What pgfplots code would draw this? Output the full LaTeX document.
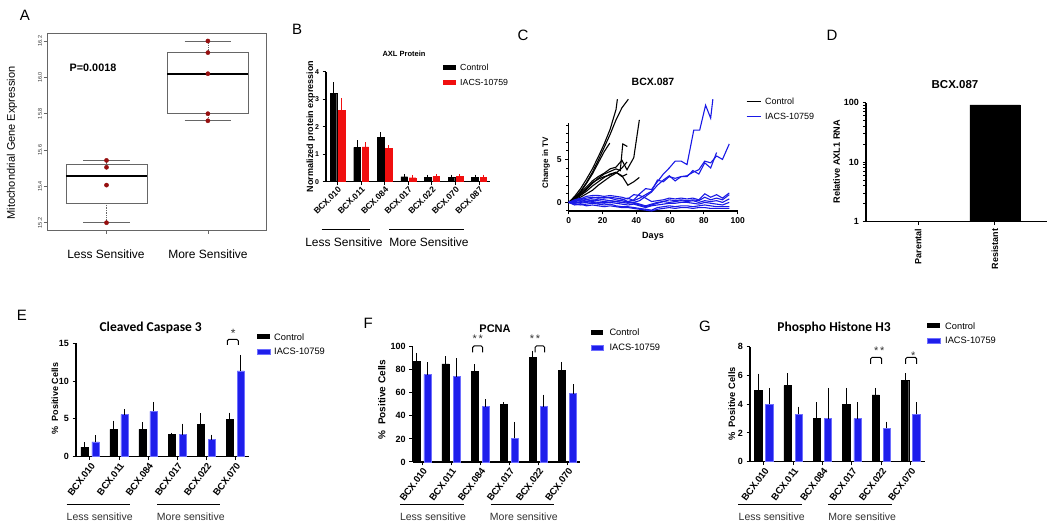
\documentclass[border=0pt]{standalone}
\usepackage{fontspec}
\setmainfont{Liberation Sans}
\newfontfamily\calibri{Carlito}
\usepackage{pgfplots}
\pgfplotsset{compat=1.18}

\definecolor{dred}{RGB}{150,15,15}
\definecolor{bblue}{RGB}{30,30,235}
\definecolor{bedge}{RGB}{110,110,255}
\definecolor{rred}{RGB}{240,15,15}
\definecolor{lblue}{RGB}{25,25,230}
\definecolor{txtg}{RGB}{50,50,50}

\newcommand{\fs}[1]{\fontsize{#1}{#1}\selectfont}

\pgfplotsset{
  gp/.style={scale only axis, anchor=south west, axis lines=left,
    axis line style={line width=1.1pt,-}, every tick/.style={line width=1pt,black},
    tick align=outside, major tick length=3.5pt, clip=false,
    /pgf/number format/assume math mode=true,
    tick label style={font=\bfseries\fs{8.5}}},
  ebc/.style={error bars/y dir=plus, error bars/y explicit,
    error bars/error bar style={#1, line width=1pt},
    error bars/error mark options={#1, line width=1pt, mark size=2pt}},
  gpbar/.style={gp, ybar, bar width=0.25, xtick={0,...,5},
    xticklabels={BCX.010,BCX.011,BCX.084,BCX.017,BCX.022,BCX.070},
    xticklabel style={rotate=53, anchor=north east, inner sep=1pt, font=\bfseries\fs{9.5}},
    yticklabel style={font=\bfseries\fs{9}}},
  ctl/.style={fill=black, draw=black, bar shift=-0.19, ebc=black},
  trt/.style={fill=bblue, draw=bedge, line width=0.6pt, bar shift=0.19, ebc=black},
  cl/.style={black, line width=1.1pt, mark=none},
  bl/.style={lblue, line width=1.1pt, mark=none}
}

\begin{document}
\begin{tikzpicture}
\fill[white] (0pt,0pt) rectangle (1050pt,532pt);
\useasboundingbox (0pt,0pt) rectangle (1050pt,532pt);

% ================= Panel A =================
\begin{axis}[scale only axis, anchor=south west, at={(47.7pt,302pt)}, width=219pt, height=197pt,
  xmin=0.42, xmax=2.58, ymin=15.16, ymax=16.244, clip=false,
  axis line style={draw=black!60, line width=0.8pt},
  xtick={1,2}, xticklabels={}, ytick={15.2,15.4,15.6,15.8,16.0,16.2},
  yticklabels={15.2,15.4,15.6,15.8,16.0,16.2},
  xtick pos=left, ytick pos=left, tick align=outside, major tick length=4pt,
  every tick/.style={black!60, line width=0.6pt},
  yticklabel style={rotate=90, anchor=south, font=\fs{5.5}, text=black!80, inner sep=1.5pt},
  /pgf/number format/assume math mode=true]
% Less sensitive
\addplot[color=black!60, line width=0.8pt] coordinates {(0.6,15.307)(1.4,15.307)(1.4,15.523)(0.6,15.523)(0.6,15.307)};
\addplot[color=black!60, line width=0.7pt, densely dotted] coordinates {(1,15.307)(1,15.2)};
\addplot[color=black!60, line width=0.7pt, densely dotted] coordinates {(1,15.523)(1,15.543)};
\addplot[color=black!60, line width=0.8pt] coordinates {(0.77,15.2)(1.23,15.2)};
\addplot[color=black!60, line width=0.8pt] coordinates {(0.77,15.543)(1.23,15.543)};
\addplot[color=black, line width=1.6pt] coordinates {(0.6,15.457)(1.4,15.457)};
% More sensitive
\addplot[color=black!60, line width=0.8pt] coordinates {(1.6,15.8)(2.4,15.8)(2.4,16.136)(1.6,16.136)(1.6,15.8)};
\addplot[color=black!60, line width=0.7pt, densely dotted] coordinates {(2,15.8)(2,15.761)};
\addplot[color=black!60, line width=0.7pt, densely dotted] coordinates {(2,16.136)(2,16.2)};
\addplot[color=black!60, line width=0.8pt] coordinates {(1.77,15.761)(2.23,15.761)};
\addplot[color=black!60, line width=0.8pt] coordinates {(1.77,16.2)(2.23,16.2)};
\addplot[color=black, line width=1.6pt] coordinates {(1.6,16.02)(2.4,16.02)};
% points
\addplot[only marks, mark=*, mark size=2.1pt, color=dred] coordinates {(1,15.543)(1,15.505)(1,15.407)(1,15.2)(2,16.2)(2,16.136)(2,16.02)(2,15.8)(2,15.761)};
\end{axis}

% ================= Panel B =================
\begin{axis}[gp, at={(326pt,350.3pt)}, width=164pt, height=110pt,
  xmin=-0.49, xmax=6.46, ymin=0, ymax=4, ytick={0,1,2,3,4}, ybar, bar width=0.28,
  xtick={0,...,6}, xticklabels={BCX.010,BCX.011,BCX.084,BCX.017,BCX.022,BCX.070,BCX.087},
  xticklabel style={rotate=45, anchor=north east, inner sep=0.5pt, font=\bfseries\fs{8.5}},
  yticklabel style={font=\bfseries\fs{7}}]
\addplot[fill=black, draw=black, bar shift=-0.176, ebc=black] coordinates {
 (0,3.21) +- (0,0.33) (1,1.25) +- (0,0.19) (2,1.6) +- (0,0.13) (3,0.18) +- (0,0.01)
 (4,0.17) +- (0,0.01) (5,0.17) +- (0,0.01) (6,0.17) +- (0,0.01)};
\addplot[fill=rred, draw=rred, bar shift=0.176, ebc=rred] coordinates {
 (0,2.6) +- (0,0.37) (1,1.27) +- (0,0.09) (2,1.2) +- (0,0.05) (3,0.145) +- (0,0.01)
 (4,0.19) +- (0,0.01) (5,0.2) +- (0,0.01) (6,0.17) +- (0,0.01)};
\end{axis}

% ================= Panel C =================
\begin{axis}[gp, at={(568.7pt,321pt)}, width=169pt, height=87.7pt,
  xmin=0, xmax=100, ymin=-1, ymax=9.2, xtick={0,20,40,60,80,100}, ytick={0,5},
  minor ytick={-1,1,2,3,4,6,7,8,9}, minor tick length=2.5pt,
  tick label style={font=\bfseries\fs{8.5}}]
\addplot[cl] coordinates {(0,0)(3.5,0.7)(7,1.6)(10.5,2.7)(14,3.9)(17.5,5.3)(21,6.8)(24.5,8.5)(28,10.8)(28.8,12)};
\addplot[cl] coordinates {(0,0)(3.5,0.6)(7,1.3)(10.5,2.3)(14,3.5)(17.5,4.9)(21,6.4)(24.5,7.9)(28,9.6)(31.5,11.0)(35.3,12)};
\addplot[cl] coordinates {(0,0)(3.5,0.5)(7,1.2)(10.5,2.2)(14,3.3)(17.5,4.6)(21,5.9)(24.3,6.9)};
\addplot[cl] coordinates {(0,0)(3.5,0.4)(7,0.9)(10.5,1.5)(14,2.2)(17.5,2.8)(21,3.3)(24.5,3.6)(28,3.9)(30.5,3.7)(32,6.8)(34.7,6.5)};
\addplot[cl] coordinates {(0,0)(3.5,0.5)(7,1.1)(10.5,1.8)(14,2.5)(17.5,3.0)(21,3.4)(24.5,3.9)(28,4.1)(31.5,4.9)(34.5,3.8)(38.5,5.2)(41.8,9.6)};
\addplot[cl] coordinates {(0,0)(3.5,0.3)(7,0.8)(10.5,1.3)(14,1.9)(17.5,2.4)(21,2.9)(24.5,3.3)(28,3.5)(31.5,3.1)(35,2.0)(38.5,2.4)(41.8,2.9)};
\addplot[cl] coordinates {(0,0)(3.5,0.3)(7,0.6)(10.5,1.0)(14,1.4)(17.5,2.0)(21,2.5)(24.5,3.0)(28,3.4)(31.5,4.0)(34.5,4.7)};
\addplot[cl] coordinates {(0,0)(3.5,0.5)(7,1.0)(10.5,1.6)(14,2.3)(17.5,2.7)(21,3.0)(24.5,3.2)(28,3.5)(31.5,3.0)(34.5,3.3)};
% IACS
\addplot[bl] coordinates {(0,0)(3.5,-0.1)(7,0.1)(10.5,0.3)(14,0.5)(17.5,0.6)(21,0.5)(24.5,0.6)(28,0.5)(31.5,0.4)(35,0.1)(38.5,0.3)(42,1.0)(45.5,1.6)(49,1.5)(52.5,2.4)(56,3.3)(59.5,4.0)(63,4.8)(66.5,4.8)(70,4.4)(74,8.4)(77.5,8.4)(81,11.3)(84,9.8)(85.3,12)};
\addplot[bl] coordinates {(0,0)(3.5,0.1)(7,0.2)(10.5,0.1)(14,0.3)(17.5,0.2)(21,0.1)(24.5,0.2)(28,0.1)(31.5,0.0)(35,0.1)(38.5,0.0)(42,0.2)(45.5,0.7)(49,1.2)(52.5,2.0)(56,2.6)(59.5,3.1)(63,2.5)(66.5,3.0)(70,3.0)(73.5,3.7)(77,3.3)(80.5,4.6)(84,4.0)(87.5,5.8)};
\addplot[bl] coordinates {(0,0)(3.5,0.0)(7,-0.1)(10.5,0.0)(14,0.1)(17.5,0.0)(21,-0.1)(24.5,0.0)(28,0.1)(31.5,0.3)(35,0.5)(38.5,0.2)(42,0.5)(45.5,0.9)(49,1.3)(52.5,2.6)(56,2.4)(59.5,3.0)(63,2.8)(66.5,3.0)(70,3.1)(73.5,3.5)(77,3.8)(80.5,4.8)(84,4.6)(87.5,5.4)(91,5.0)(95,6.8)};
\addplot[bl] coordinates {(0,0)(3.5,0.2)(7,0.4)(10.5,0.7)(14,0.8)(17.5,0.8)(21,0.7)(24.5,0.8)(28,0.7)(31.5,0.6)(35,0.4)(38.5,0.9)(42,0.8)(45.5,0.5)(49,0.1)(52.5,0.2)(56,0.3)(59.5,0.5)(63,0.4)(66.5,0.5)(70,0.4)(73.5,0.5)(77,0.3)(80.5,1.0)(84,0.6)(87.5,0.9)(91,0.5)(95,1.1)};
\addplot[bl] coordinates {(0,0)(3.5,0.1)(7,0.3)(10.5,0.5)(14,0.6)(17.5,0.5)(21,0.6)(24.5,0.5)(28,0.3)(31.5,0.2)(35,0.0)(38.5,-0.1)(42,-0.3)(45.5,-0.5)(49,-0.3)(52.5,-0.1)(56,0.1)(59.5,0.3)(63,0.2)(66.5,0.3)(70,0.2)(73.5,0.3)(77,0.2)(80.5,0.6)(84,0.3)(87.5,0.5)(91,0.3)(95,0.9)};
\addplot[bl] coordinates {(0,0)(3.5,-0.1)(7,0.0)(10.5,0.1)(14,0.0)(17.5,-0.1)(21,0.0)(24.5,0.0)(28,-0.1)(31.5,-0.2)(35,-0.3)(38.5,-0.2)(42,-0.4)(45.5,-0.6)(49,-0.4)(52.5,-0.3)(56,-0.2)(59.5,-0.1)(63,-0.1)(66.5,0.0)(70,0.0)(73.5,-0.1)(77,-0.2)(80.5,0.0)(84,-0.1)(87.5,-0.2)(91,-0.3)(95,0.0)};
\addplot[bl] coordinates {(0,0)(3.5,-0.2)(7,-0.3)(10.5,-0.2)(14,-0.1)(17.5,-0.2)(21,-0.3)(24.5,-0.2)(28,-0.4)(31.5,-0.5)(35,-0.5)(38.5,-0.6)(42,-0.7)(45.5,-0.8)(49,-0.9)(52.5,-0.6)(56,-0.5)(59.5,-0.4)(63,-0.5)(66.5,-0.4)(70,-0.4)(73.5,-0.5)(77,-0.4)(80.5,-0.3)(84,-0.4)(87.5,-0.5)(91,-0.5)(95,-0.5)};
\addplot[bl] coordinates {(0,0)(3.5,-0.3)(7,-0.2)(10.5,-0.4)(14,-0.3)(17.5,-0.4)(21,-0.5)(24.5,-0.4)(28,-0.5)(31.5,-0.6)(35,-0.6)(38.5,-0.7)(42,-0.8)(45.5,-0.9)(49,-1.0)(52.5,-0.8)(56,-0.7)(59.5,-0.6)(63,-0.7)(66.5,-0.6)(70,-0.6)(73.5,-0.7)(77,-0.6)(80.5,-0.6)(84,-0.7)(87.5,-0.7)(91,-0.7)(95,-0.7)};
\addplot[bl] coordinates {(0,0)(3.5,0.3)(7,0.5)(10.5,0.3)(14,0.2)(17.5,0.4)(21,0.3)(24.5,0.2)(28,0.1)(31.5,0.0)(35,-0.1)(38.5,0.0)(42,-0.2)(45.5,-0.4)(49,-0.2)(52.5,0.0)(56,0.1)(59.5,0.0)(63,0.1)(66.5,0.2)(70,0.1)(73.5,0.2)(77,0.0)(80.5,0.2)(84,0.1)(87.5,0.2)(91,0.0)(95,0.4)};
\end{axis}

% ================= Panel D =================
\begin{axis}[gp, at={(866pt,310.3pt)}, width=180.7pt, height=119pt,
  ymode=log, ymin=1, ymax=100, xmin=-0.68, xmax=1.674,
  ytick={1,10,100}, yticklabels={1,10,100}, xtick={0,1}, xticklabels={Parental,Resistant},
  xticklabel style={rotate=90, anchor=east, font=\bfseries\fs{9}},
  yticklabel style={font=\bfseries\fs{9}}, ybar, bar width=0.656]
\addplot[fill=black, draw=black, bar shift=0] coordinates {(0,1)(1,92)};
\end{axis}

% ================= Panel E =================
\begin{axis}[gpbar, at={(76pt,75.3pt)}, width=173pt, height=113.4pt,
  xmin=-0.48, xmax=5.47, ymin=0, ymax=15, ytick={0,5,10,15}]
\addplot[ctl] coordinates {(0,1.28) +- (0,0.35) (1,3.6) +- (0,0.9) (2,3.6) +- (0,0.7) (3,2.91) +- (0,0) (4,4.28) +- (0,1.22) (5,4.94) +- (0,0.62)};
\addplot[trt] coordinates {(0,1.96) +- (0,0.6) (1,5.58) +- (0,0.42) (2,6.0) +- (0,0.98) (3,2.91) +- (0,1.2) (4,2.25) +- (0,0.4) (5,11.34) +- (0,1.87)};
\end{axis}

% ================= Panel F =================
\begin{axis}[gpbar, at={(412.7pt,70pt)}, width=167.3pt, height=115.3pt,
  xmin=-0.32, xmax=5.43, ymin=0, ymax=100, ytick={0,20,40,60,80,100}]
\addplot[ctl] coordinates {(0,87) +- (0,5.8) (1,85) +- (0,4.9) (2,78.9) +- (0,4.1) (3,50) +- (0,0) (4,90.8) +- (0,4) (5,79.5) +- (0,5.5)};
\addplot[trt] coordinates {(0,75.7) +- (0,9) (1,74) +- (0,14.2) (2,48) +- (0,4.9) (3,20.5) +- (0,12.5) (4,48) +- (0,8.6) (5,59.2) +- (0,6.7)};
\end{axis}

% ================= Panel G =================
\begin{axis}[gpbar, at={(750pt,70.3pt)}, width=175pt, height=115pt,
  xmin=-0.47, xmax=5.49, ymin=0, ymax=8, ytick={0,2,4,6,8}]
\addplot[ctl] coordinates {(0,4.95) +- (0,1.03) (1,5.3) +- (0,0.7) (2,3.0) +- (0,1.0) (3,4.0) +- (0,1.0) (4,4.65) +- (0,0.35) (5,5.65) +- (0,0.35)};
\addplot[trt] coordinates {(0,4.0) +- (0,1.0) (1,3.3) +- (0,0.4) (2,3.0) +- (0,2.0) (3,3.0) +- (0,1.0) (4,2.33) +- (0,0.32) (5,3.3) +- (0,0.7)};
\end{axis}

% ================= annotations =================
\begin{scope}[x=1pt, y=1pt]
% panel letters
\foreach \l/\px/\py in {A/25/517, B/297/503, C/523/497, D/832/497, E/22/217, F/368.3/208.7, G/705/205.3}
  \node[font=\fs{15}] at (\px,\py) {\l};

% A
\node[font=\bfseries\fs{10.8}] at (93,464) {P=0.0018};
\node[font=\fs{11}, rotate=90] at (12,389) {Mitochondrial Gene Expression};
\node[font=\fs{12}] at (106,278) {Less Sensitive};
\node[font=\fs{12}] at (208,278) {More Sensitive};

% B
\node[font=\bfseries\fs{7.5}] at (404,478) {AXL Protein};
\node[font=\bfseries\fs{9}, rotate=90] at (310.7,405.3) {Normalized protein expression};
\fill[black] (442.7,462) rectangle (456,466.6);
\fill[rred] (442.7,447.4) rectangle (456,452);
\node[font=\fs{8.8}, anchor=west, inner sep=0pt] at (460,464.3) {Control};
\node[font=\fs{8.8}, anchor=west, inner sep=0pt] at (460,449.7) {IACS-10759};
\draw[line width=1pt] (321.7,302.7) -- (370,302.7);
\draw[line width=1pt] (389,302.7) -- (464,302.7);
\node[font=\fs{12}] at (344,290) {Less Sensitive};
\node[font=\fs{12}] at (429,290) {More Sensitive};

% C
\node[font=\bfseries\fs{10.5}] at (653,450.3) {BCX.087};
\node[font=\bfseries\fs{9}] at (653,296) {Days};
\node[font=\bfseries\fs{8}, rotate=90] at (546,369) {Change in TV};
\draw[black, line width=1.1pt] (746.7,430.3) -- (760.7,430.3);
\draw[lblue, line width=1.1pt] (746.7,415.3) -- (760.7,415.3);
\node[font=\fs{9}, anchor=west, inner sep=0pt] at (765,430.3) {Control};
\node[font=\fs{9}, anchor=west, inner sep=0pt] at (765,415.3) {IACS-10759};

% D
\node[font=\bfseries\fs{11.5}] at (955,447.7) {BCX.087};
\node[font=\bfseries\fs{9.2}, rotate=90] at (836.7,370.3) {Relative AXL1 RNA};

% E
\node[font=\calibri\bfseries\fs{13.5}] at (150.7,203.7) {Cleaved Caspase 3};
\node[font=\bfseries\fs{9}, rotate=90] at (55,133.7) {\%\ \ Positive Cells};
\fill[black] (256.7,192.8) rectangle (270,197.8);
\filldraw[fill=bblue, draw=bedge] (256.7,177.8) rectangle (270,182.8);
\node[font=\fs{9.3}, anchor=west, inner sep=0pt] at (274,195.3) {Control};
\node[font=\fs{9.3}, anchor=west, inner sep=0pt] at (274,180.3) {IACS-10759};
\draw[line width=1pt, rounded corners=1.5pt] (227.3,187) -- (227.3,192.7) -- (238.3,192.7) -- (238.3,187);
\node[font=\fs{12}, text=txtg] at (233.3,199) {*};
\draw[line width=1pt] (66.7,27.7) -- (130,27.7);
\draw[line width=1pt] (157.3,27.7) -- (220,27.7);
\node[font=\fs{10.5}, text=txtg] at (99.7,15.3) {Less sensitive};
\node[font=\fs{10.5}, text=txtg] at (190.8,15.3) {More sensitive};

% F
\node[font=\bfseries\fs{11}] at (495,203.7) {PCNA};
\node[font=\bfseries\fs{10}, rotate=90] at (381.7,132.5) {\%\ \ Positive Cells};
\fill[black] (590.7,197.2) rectangle (603.3,202.2);
\filldraw[fill=bblue, draw=bedge] (590.7,182.2) rectangle (603.3,187.2);
\node[font=\fs{9.3}, anchor=west, inner sep=0pt] at (609.3,199.7) {Control};
\node[font=\fs{9.3}, anchor=west, inner sep=0pt] at (609.3,184.7) {IACS-10759};
\draw[line width=1pt, rounded corners=1.5pt] (472.7,179.7) -- (472.7,186) -- (482.7,186) -- (482.7,179.7);
\draw[line width=1pt, rounded corners=1.5pt] (535,179.7) -- (535,186) -- (544.7,186) -- (544.7,179.7);
\node[font=\fs{11}, text=txtg] at (477.7,193.5) {*\,*};
\node[font=\fs{11}, text=txtg] at (535,193.5) {*\,*};
\draw[line width=1pt] (400,27.7) -- (464,27.7);
\draw[line width=1pt] (490.7,27.7) -- (553.7,27.7);
\node[font=\fs{10.5}, text=txtg] at (433,15.3) {Less sensitive};
\node[font=\fs{10.5}, text=txtg] at (523.8,15.3) {More sensitive};

% G
\node[font=\calibri\bfseries\fs{13.5}] at (834,203.7) {Phospho Histone H3};
\node[font=\bfseries\fs{9.3}, rotate=90] at (731.7,128) {\%\ \ Positive Cells};
\fill[black] (927.3,203.8) rectangle (940,208.8);
\filldraw[fill=bblue, draw=bedge] (927.3,188.8) rectangle (940,193.8);
\node[font=\fs{9.3}, anchor=west, inner sep=0pt] at (945,206.3) {Control};
\node[font=\fs{9.3}, anchor=west, inner sep=0pt] at (945,191.3) {IACS-10759};
\draw[line width=1pt, rounded corners=1.5pt] (870.7,168) -- (870.7,174.7) -- (881.7,174.7) -- (881.7,168);
\draw[line width=1pt, rounded corners=1.5pt] (905.7,168) -- (905.7,174.7) -- (916.7,174.7) -- (916.7,168);
\node[font=\fs{11}, text=txtg] at (879.3,181.5) {*\,*};
\node[font=\fs{11}, text=txtg] at (913.3,176.5) {*};
\draw[line width=1pt] (738.3,27.7) -- (801.7,27.7);
\draw[line width=1pt] (828.3,27.7) -- (891.7,27.7);
\node[font=\fs{10.5}, text=txtg] at (771.7,15.3) {Less sensitive};
\node[font=\fs{10.5}, text=txtg] at (862.2,15.3) {More sensitive};
\end{scope}
\end{tikzpicture}
\end{document}
